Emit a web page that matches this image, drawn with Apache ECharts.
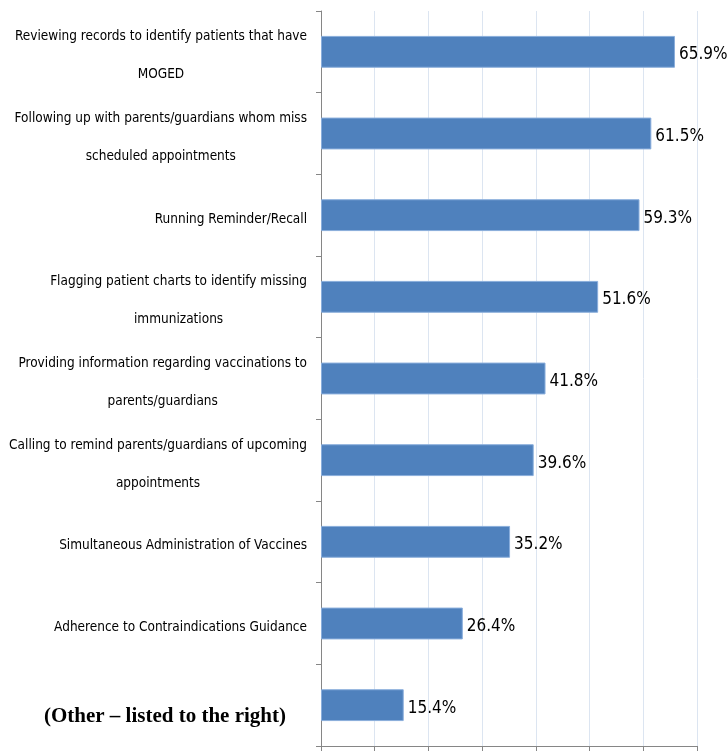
<!DOCTYPE html>
<html>
<head>
<meta charset="utf-8">
<script src="https://cdn.jsdelivr.net/npm/echarts@6/dist/echarts.min.js"></script>
<style>
  html, body { margin: 0; padding: 0; background: #fff; }
  #chart { width: 727px; height: 751px; }
</style>
</head>
<body>
<div id="chart"></div>
<script>
const categories = [
  'Reviewing records to identify patients that have\nMOGED',
  'Following up with parents/guardians whom miss\nscheduled appointments',
  'Running Reminder/Recall',
  'Flagging patient charts to identify missing\nimmunizations',
  'Providing information regarding vaccinations to\nparents/guardians',
  'Calling to remind parents/guardians of upcoming\nappointments',
  'Simultaneous Administration of Vaccines',
  'Adherence to Contraindications Guidance',
  '(Other \u2013 listed to the right)'
]
const values = [65.9, 61.5, 59.3, 51.6, 41.8, 39.6, 35.2, 26.4, 15.4]

const labelFont = "'DejaVu Sans Condensed', Lato, sans-serif"
const valueFont = "'DejaVu Sans Condensed', Lato, sans-serif"

const chart = echarts.init(document.getElementById('chart'), null, { renderer: 'canvas' })

const option = {
  animation: false,
  grid: { left: 321, top: 11, right: 30, bottom: 5, containLabel: false, outerBoundsMode: 'none' },
  xAxis: {
    type: 'value',
    min: 0,
    max: 70,
    interval: 10,
    axisLine: { show: true, lineStyle: { color: '#868686', width: 1 } },
    axisTick: { show: true, length: 5, lineStyle: { color: '#868686' } },
    axisLabel: { show: false },
    splitLine: { show: true, lineStyle: { color: '#DCE5F1', width: 1 } }
  },
  yAxis: {
    type: 'category',
    inverse: true,
    data: categories,
    axisLine: { show: true, lineStyle: { color: '#868686', width: 1 } },
    axisTick: { show: true, length: 5, lineStyle: { color: '#868686' } },
    axisLabel: {
      margin: 14,
      align: 'right',
      padding: [8, 0, 0, 0],
      formatter: function (value, index) {
        if (index === categories.length - 1) {
          return '{o|' + value + '}'
        }
        return value.split('\n').map(l => '{c|' + l + '}').join('\n')
      },
      rich: {
        c: {
          align: 'center',
          fontFamily: labelFont,
          fontSize: 13.5,
          lineHeight: 38,
          color: '#000'
        },
        o: {
          fontFamily: "'Liberation Serif', 'Times New Roman', serif",
          fontWeight: 'bold',
          fontSize: 21,
          color: '#000',
          padding: [14, 21, 0, 0]
        }
      }
    }
  },
  series: [
    {
      type: 'bar',
      data: values,
      barCategoryGap: '61%',
      itemStyle: { color: '#4F81BD', borderColor: '#8AAEDC', borderWidth: 1 },
      label: {
        show: true,
        position: 'right',
        distance: 4,
        offset: [0, 3],
        formatter: p => p.value.toFixed(1) + '%',
        fontFamily: valueFont,
        fontSize: 17,
        color: '#000'
      }
    }
  ]
}

chart.setOption(option)
</script>
</body>
</html>
